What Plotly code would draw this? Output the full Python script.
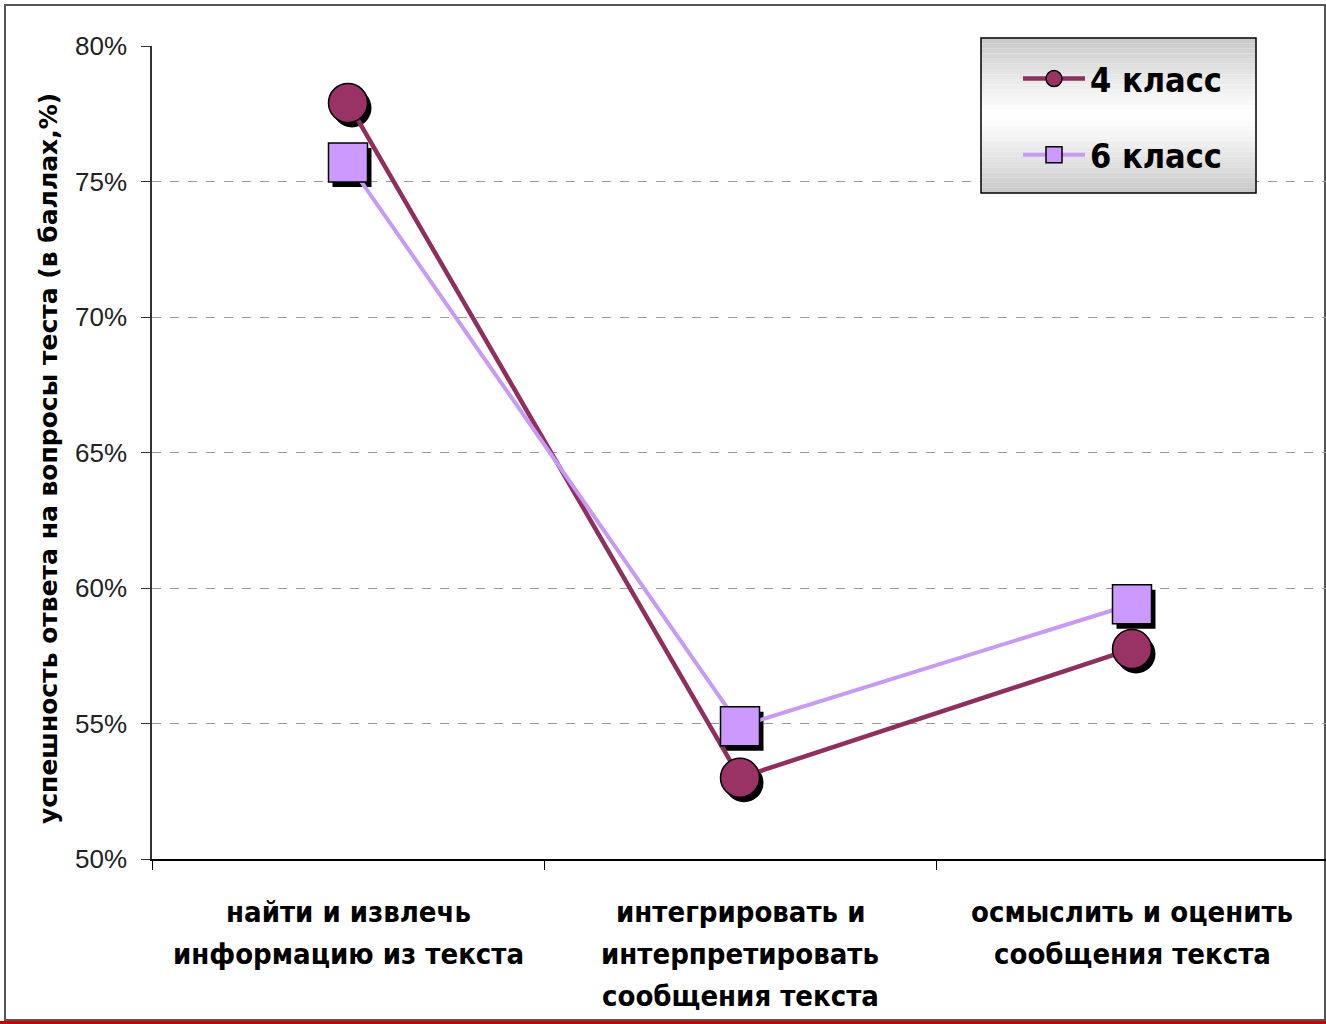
import plotly.graph_objects as go

categories = ["найти и извлечь<br>информацию из текста",
              "интегрировать и<br>интерпретировать<br>сообщения текста",
              "осмыслить и оценить<br>сообщения текста"]
series_names = ["4 класс", "6 класс"]
grade4 = [77.9, 53.0, 57.75]
grade6 = [75.7, 54.9, 59.4]
y_ticks = [50, 55, 60, 65, 70, 75, 80]
y_tick_labels = ["50%", "55%", "60%", "65%", "70%", "75%", "80%"]
y_title = "успешность ответа на вопросы теста (в баллах,%)"

W, H = 1326, 1024
L, R, T, B = 152, 0, 46, 165
pw, ph = W - L - R, H - T - B

c4, c6 = "#993366", "#CC99FF"
line4, line6 = "#8E2F5E", "#C79AF6"
xi = list(range(len(categories)))
x_bounds = [i - 0.5 for i in xi]

xr = [-0.5, -0.5 + 3 * pw / 1176]
yr = [50, 80]
xspan, yspan = xr[1] - xr[0], yr[1] - yr[0]

# shadow axes (base): same scale, ranges shifted so marks appear 4px right, 5px down
shx, shy = 4, 5
xr_s = [v - shx * xspan / pw for v in xr]
yr_s = [v + shy * yspan / ph for v in yr]

fig = go.Figure()
for vals, sym in [(grade4, "circle"), (grade6, "square")]:
    fig.add_trace(go.Scatter(x=xi, y=vals, mode="markers", xaxis="x", yaxis="y",
                             marker=dict(symbol=sym, size=39, color="black"),
                             showlegend=False, hoverinfo="skip", cliponaxis=False))
fig.add_trace(go.Scatter(x=xi, y=grade4, mode="lines+markers", name=series_names[0],
                         xaxis="x2", yaxis="y2",
                         line=dict(color=line4, width=4.5),
                         marker=dict(symbol="circle", size=39, color=c4,
                                     line=dict(color="black", width=1.5)),
                         legendgroup="a", cliponaxis=False))
fig.add_trace(go.Scatter(x=xi, y=grade6, mode="lines+markers", name=series_names[1],
                         xaxis="x2", yaxis="y2",
                         line=dict(color=line6, width=4),
                         marker=dict(symbol="square", size=39, color=c6,
                                     line=dict(color="black", width=1.5)),
                         legendgroup="b", cliponaxis=False))

def px2paper(x, y):
    return (x - L) / pw, (H - B - y) / ph

shapes = []
x0, y0 = px2paper(5, 5)
x1, y1 = px2paper(1325, 1020)
shapes.append(dict(type="rect", xref="paper", yref="paper", x0=x0, y0=y1, x1=x1, y1=y0,
                   line=dict(color="#555555", width=2), layer="below"))
rx0, ry0 = px2paper(0, 1021)
rx1, ry1 = px2paper(1326, 1024)
shapes.append(dict(type="rect", xref="paper", yref="paper", x0=rx0, y0=ry1, x1=rx1, y1=ry0,
                   line=dict(width=0), fillcolor="#CC0000", layer="below"))
lx0, lx1, ly0, ly1 = 981, 1256, 38, 193
n = 30
for k in range(n):
    t = (k + 0.5) / n
    g = int(200 + 55 * (1 - abs(2 * t - 1) ** 1.2))
    a0 = ly0 + (ly1 - ly0) * k / n
    a1 = ly0 + (ly1 - ly0) * (k + 1) / n
    px0, py0 = px2paper(lx0, a0)
    px1, py1 = px2paper(lx1, a1)
    shapes.append(dict(type="rect", xref="paper", yref="paper", x0=px0, x1=px1, y0=py1, y1=py0,
                       line=dict(width=0), fillcolor=f"rgb({g},{g},{g})", layer="above"))
bx0, by0 = px2paper(lx0, ly0)
bx1, by1 = px2paper(lx1, ly1)
shapes.append(dict(type="rect", xref="paper", yref="paper", x0=bx0, x1=bx1, y0=by1, y1=by0,
                   line=dict(color="black", width=1.5), fillcolor="rgba(0,0,0,0)", layer="above"))

label_font = dict(family="DejaVu Sans Condensed, DejaVu Sans, Arial", size=29, color="black",
                  weight="bold")
annotations = []
for i, cat in enumerate(categories):
    for j, ln in enumerate(cat.split("<br>")):
        annotations.append(dict(x=i, xref="x2", y=0, yref="paper", text=ln, showarrow=False,
                                xanchor="center", yanchor="middle", yshift=-(53 + 42 * j),
                                font=label_font))
annotations.append(dict(x=(48 - L) / pw, xref="paper", y=(H - B - 459) / ph, yref="paper",
                        text=y_title, textangle=-90, showarrow=False,
                        xanchor="center", yanchor="middle",
                        font=dict(family="DejaVu Sans, Arial", size=25, color="black",
                                  weight="bold")))

lgx, lgy = px2paper(1018, 50)
fig.update_layout(
    width=W, height=H,
    margin=dict(l=L, r=R, t=T, b=B, pad=0),
    paper_bgcolor="white", plot_bgcolor="white",
    showlegend=True,
    legend=dict(x=lgx, y=lgy, xanchor="left", yanchor="top", bgcolor="rgba(0,0,0,0)",
                borderwidth=0, itemwidth=62, tracegroupgap=29,
                font=dict(family="Liberation Sans Narrow, DejaVu Sans Condensed, Arial Narrow",
                          size=34, color="black", weight="bold")),
    xaxis=dict(range=xr_s, visible=False),
    yaxis=dict(range=yr_s, visible=False),
    xaxis2=dict(range=xr, overlaying="x", anchor="y2",
                tickmode="array", tickvals=x_bounds, ticktext=["", "", ""],
                showgrid=False, showline=True, linecolor="black", linewidth=1.5,
                ticks="outside", ticklen=9, tickcolor="black", zeroline=False),
    yaxis2=dict(range=yr, overlaying="y", anchor="x2",
                tickmode="array", tickvals=y_ticks, ticktext=y_tick_labels,
                showgrid=True, gridcolor="#999999", griddash="dash", gridwidth=1,
                showline=True, linecolor="#333333", linewidth=1.5,
                ticks="outside", ticklen=9, tickcolor="#333333", ticklabelstandoff=9,
                tickfont=dict(family="Liberation Sans, Arial", size=26, color="#222222"),
                zeroline=False),
    shapes=shapes, annotations=annotations,
)
fig.write_html("out.html")
